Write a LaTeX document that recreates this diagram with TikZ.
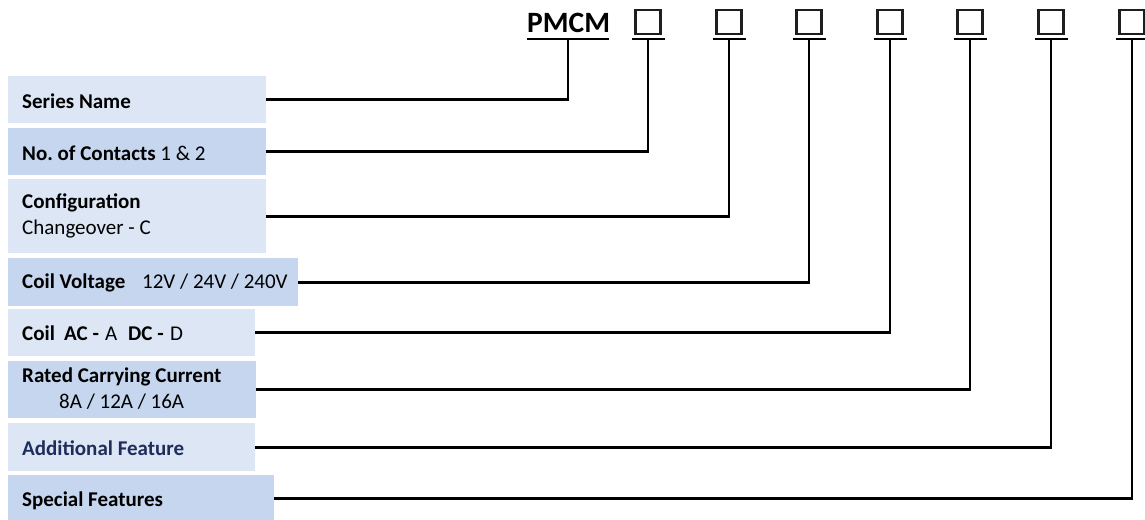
\documentclass[tikz,border=0pt]{standalone}
\usepackage{fontspec}
\setmainfont{Carlito}
\definecolor{boxlight}{RGB}{220,230,244}
\definecolor{boxdark}{RGB}{198,214,238}
\definecolor{navytxt}{RGB}{31,45,90}
\definecolor{sqgray}{RGB}{30,30,30}
\begin{document}
\begin{tikzpicture}[x=1pt,y=-1pt,
  lab/.style={draw=none,inner sep=0pt,anchor=north west},
  txt/.style={inner sep=0pt,anchor=base west,font=\fontsize{21}{24}\selectfont},
  conn/.style={line width=2.8pt,black},
  uline/.style={line width=2.8pt,black},
  codesq/.style={draw=sqgray,line width=2.5pt,minimum width=25pt,minimum height=24pt,inner sep=0pt,fill=white}]
\fill[white] (0,0) rectangle (1145,519);
\useasboundingbox (0,0) rectangle (1145,519);
% label boxes
\node[lab,fill=boxlight,minimum width=258pt,minimum height=47pt] (b1) at (8,76) {};
\node[lab,fill=boxdark,minimum width=258pt,minimum height=47pt] (b2) at (8,128) {};
\node[lab,fill=boxlight,minimum width=258pt,minimum height=74pt] (b3) at (8,179) {};
\node[lab,fill=boxdark,minimum width=290pt,minimum height=48pt] (b4) at (8,258) {};
\node[lab,fill=boxlight,minimum width=247pt,minimum height=47pt] (b5) at (8,309) {};
\node[lab,fill=boxdark,minimum width=248pt,minimum height=57pt] (b6) at (8,361) {};
\node[lab,fill=boxlight,minimum width=247pt,minimum height=48pt] (b7) at (8,423) {};
\node[lab,fill=boxdark,minimum width=266pt,minimum height=46pt] (b8) at (8,475) {};
% texts
\node[txt] (t1) at (22,108) {\textbf{Series Name}};
\node[txt] (t2) at (22,160) {\textbf{No.\ of Contacts} 1 \& 2};
\node[txt] (t3a) at (22,208) {\textbf{Configuration}};
\node[txt] (t3b) at (22,234) {Changeover - C};
\node[txt] (t4a) at (22,288) {\textbf{Coil Voltage}};
\node[txt] (t4b) at (142,288) {12V / 24V / 240V};
\node[txt] (t5) at (22,340) {\makebox[42pt][l]{\textbf{Coil}}\makebox[41pt][l]{\textbf{AC -}}\makebox[23pt][l]{A}\makebox[42pt][l]{\textbf{DC -}}D};
\node[txt] (t6a) at (22,382) {\textbf{Rated Carrying Current}};
\node[txt] (t6b) at (59,408) {8A / 12A / 16A};
\node[txt,text=navytxt] (t7) at (22,455) {\textbf{Additional Feature}};
\node[txt] (t8) at (22,506) {\textbf{Special Features}};
% header
\node[inner sep=0pt,anchor=base west,font=\fontsize{29.5}{33}\selectfont\bfseries] (pm) at (527,33) {PMCM};
\coordinate (u0) at (568,39);
\draw[uline] (527,39) -- (609,39);
\foreach \i/\x in {1/648,2/729,3/809,4/890,5/970,6/1051,7/1132}{
  \node[codesq] (c\i) at (\x,22) {};
  \coordinate (u\i) at (\x,39);
  \draw[uline] (\x-16.5,39) -- (\x+16.5,39);
}
% connectors
\draw[conn] (b1.east) -| (u0);
\draw[conn] (b2.east) -| (u1);
\draw[conn] (b3.east) -| (u2);
\draw[conn] (b4.east) -| (u3);
\draw[conn] (b5.east) -| (u4);
\draw[conn] (b6.east) -| (u5);
\draw[conn] (b7.east) -| (u6);
\draw[conn] (b8.east) -| (u7);
\end{tikzpicture}
\end{document}
